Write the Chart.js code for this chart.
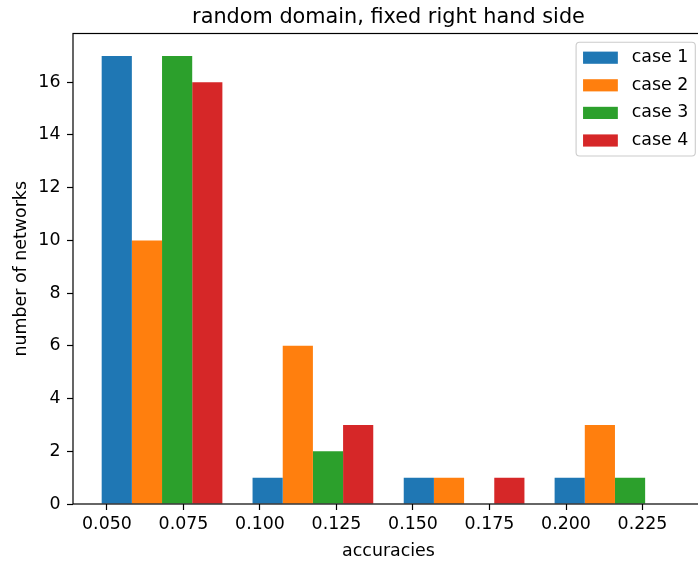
<!DOCTYPE html>
<html>
<head>
<meta charset="utf-8">
<script src="https://cdn.jsdelivr.net/npm/chart.js@4.4.1/dist/chart.umd.min.js"></script>
<style>
  html, body { margin: 0; padding: 0; overflow: hidden; background: #ffffff; width: 698px; height: 562px; }
  canvas { display: block; }
</style>
</head>
<body>
<canvas id="c" width="706" height="562" style="width:706px;height:562px"></canvas>
<script>
// Histogram bins (bin centres) and counts per case
const binCenters = [0.0680, 0.1173, 0.1667, 0.2160];
const seriesLabels = ['case 1', 'case 2', 'case 3', 'case 4'];
const case1 = [17, 1, 1, 1];
const case2 = [10, 6, 1, 3];
const case3 = [17, 2, 0, 1];
const case4 = [16, 3, 1, 0];
const seriesColors = ['#1f77b4', '#ff7f0e', '#2ca02c', '#d62728'];

const xTickValues = [0.050, 0.075, 0.100, 0.125, 0.150, 0.175, 0.200, 0.225];
const xTickLabels = ['0.050', '0.075', '0.100', '0.125', '0.150', '0.175', '0.200', '0.225'];
const yTickValues = [0, 2, 4, 6, 8, 10, 12, 14, 16];
const yTickLabels = ['0', '2', '4', '6', '8', '10', '12', '14', '16'];

const titleText = 'random domain, fixed right hand side';
const xTitle = 'accuracies';
const yTitle = 'number of networks';

const FONT = 'DejaVu Sans';
const FS = 17.4;      // 10pt text
const TITLE_FS = 20.8; // 12pt title

// axis limits with 5% margins around the bar extents
const binWidth = binCenters[1] - binCenters[0];
const barLo = binCenters[0] - 0.4 * binWidth;
const barHi = binCenters[binCenters.length - 1] + 0.4 * binWidth;
const xMin = barLo - 0.05 * (barHi - barLo);
const xMax = barHi + 0.05 * (barHi - barLo);
const allCounts = [case1, case2, case3, case4].flat();
const yMax = Math.max(...allCounts) * 1.05;

const seriesValues = [case1, case2, case3, case4];
const datasets = seriesValues.map((vals, k) => ({
  label: seriesLabels[k],
  data: vals.map((v, i) => ({ x: binCenters[i], y: v })),
  backgroundColor: seriesColors[k],
  borderWidth: 0,
  xAxisID: 'xb',
  yAxisID: 'y',
  categoryPercentage: 0.8,
  barPercentage: 1.0
}));

// axes frame drawn over the bars
const framePlugin = {
  id: 'frame',
  afterDatasetsDraw(chart) {
    const { ctx, chartArea: a } = chart;
    ctx.save();
    ctx.strokeStyle = '#000000';
    ctx.lineWidth = 1.2;
    ctx.strokeRect(a.left, a.top, a.right - a.left, a.bottom - a.top);
    ctx.restore();
  }
};

// title centred over the plotting area
const titlePlugin = {
  id: 'axTitle',
  afterDraw(chart) {
    const { ctx, chartArea: a } = chart;
    ctx.save();
    ctx.font = `${TITLE_FS}px "${FONT}"`;
    ctx.fillStyle = '#000000';
    ctx.textAlign = 'center';
    ctx.textBaseline = 'alphabetic';
    ctx.fillText(titleText, (a.left + a.right) / 2, a.top - 10.6);
    ctx.restore();
  }
};

// legend box in the upper right corner of the plotting area
const legendPlugin = {
  id: 'boxLegend',
  afterDraw(chart) {
    const { ctx, chartArea: a } = chart;
    const ds = chart.data.datasets;
    ctx.save();
    ctx.font = `${FS}px "${FONT}"`;
    const textW = Math.max(...ds.map(d => ctx.measureText(d.label).width));
    const pad = 0.4 * FS, handleW = 2 * FS, handleH = 0.7 * FS, gap = 0.8 * FS;
    const rowH = 27.6, edge = 15.5;
    const w = pad + handleW + gap + textW + pad;
    const h = 2 * edge + (ds.length - 1) * rowH;
    const x0 = a.right - 0.5 * FS - w;
    const y0 = a.top + 0.5 * FS;
    const r = 0.2 * FS;
    ctx.beginPath();
    ctx.moveTo(x0 + r, y0);
    ctx.lineTo(x0 + w - r, y0);
    ctx.arcTo(x0 + w, y0, x0 + w, y0 + r, r);
    ctx.lineTo(x0 + w, y0 + h - r);
    ctx.arcTo(x0 + w, y0 + h, x0 + w - r, y0 + h, r);
    ctx.lineTo(x0 + r, y0 + h);
    ctx.arcTo(x0, y0 + h, x0, y0 + h - r, r);
    ctx.lineTo(x0, y0 + r);
    ctx.arcTo(x0, y0, x0 + r, y0, r);
    ctx.closePath();
    ctx.fillStyle = 'rgba(255,255,255,0.8)';
    ctx.fill();
    ctx.strokeStyle = '#cccccc';
    ctx.lineWidth = 1.1;
    ctx.stroke();
    ds.forEach((d, i) => {
      const cy = y0 + edge + i * rowH;
      ctx.fillStyle = d.backgroundColor;
      ctx.fillRect(x0 + pad, cy - handleH / 2, handleW, handleH);
      ctx.fillStyle = '#000000';
      ctx.textAlign = 'left';
      ctx.textBaseline = 'middle';
      ctx.fillText(d.label, x0 + pad + handleW + gap, cy);
    });
    ctx.restore();
  }
};

const tickFont = { family: FONT, size: FS };

new Chart(document.getElementById('c'), {
  type: 'bar',
  data: { datasets },
  options: {
    responsive: false,
    animation: false,
    devicePixelRatio: 1,
    layout: { padding: { left: 0, top: 33.5, right: 2, bottom: 0 } },
    plugins: {
      legend: { display: false },
      title: { display: false },
      tooltip: { enabled: false }
    },
    scales: {
      xb: {
        type: 'linear',
        display: false,
        min: xMin,
        max: xMax,
        offset: false,
        grid: { offset: false },
        afterBuildTicks: s => { s.ticks = [{ value: xMin }, { value: xMax }]; }
      },
      x: {
        type: 'linear',
        position: 'bottom',
        min: xMin,
        max: xMax,
        offset: false,
        afterBuildTicks: s => { s.ticks = xTickValues.map(v => ({ value: v })); },
        afterFit: s => { s.height = 58; },
        border: { display: false },
        grid: {
          offset: false,
          drawOnChartArea: false,
          drawTicks: true,
          tickLength: 6,
          tickWidth: 1.2,
          tickColor: '#000000',
          color: '#000000'
        },
        ticks: {
          autoSkip: false,
          maxRotation: 0,
          minRotation: 0,
          padding: 4.5,
          color: '#000000',
          font: tickFont,
          callback: (v, i) => xTickLabels[i]
        },
        title: {
          display: true,
          text: xTitle,
          color: '#000000',
          font: tickFont,
          padding: { top: 0, bottom: 0 }
        }
      },
      y: {
        type: 'linear',
        position: 'left',
        min: 0,
        max: yMax,
        afterBuildTicks: s => { s.ticks = yTickValues.map(v => ({ value: v })); },
        afterFit: s => { s.width = 73; },
        border: { display: false },
        grid: {
          drawOnChartArea: false,
          drawTicks: true,
          tickLength: 6,
          tickWidth: 1.2,
          tickColor: '#000000',
          color: '#000000'
        },
        ticks: {
          padding: 6.5,
          color: '#000000',
          font: tickFont,
          callback: (v, i) => yTickLabels[i]
        },
        title: {
          display: true,
          text: yTitle,
          color: '#000000',
          font: tickFont,
          padding: { top: 11, bottom: 0 }
        }
      }
    }
  },
  plugins: [framePlugin, titlePlugin, legendPlugin]
});
</script>
</body>
</html>
